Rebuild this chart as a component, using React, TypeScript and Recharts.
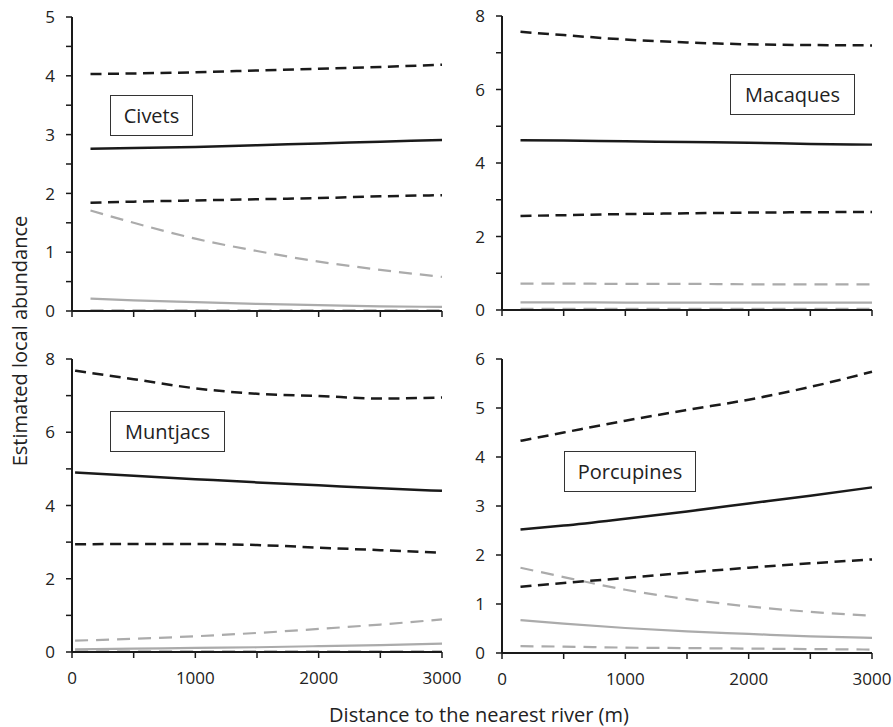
import { LineChart, Line, XAxis, YAxis } from "recharts"

// distances along the river gradient (m)
const distances = [150, 500, 1000, 1500, 2000, 2500, 3000]
const muntjacDistances = [25, 500, 1000, 1500, 2000, 2500, 3000]
const xTicks = [0, 500, 1000, 1500, 2000, 2500, 3000]

// Civets
const civetsHi = [4.03, 4.04, 4.06, 4.09, 4.12, 4.15, 4.19]
const civetsMean = [2.76, 2.77, 2.79, 2.82, 2.85, 2.88, 2.91]
const civetsLo = [1.84, 1.86, 1.88, 1.9, 1.92, 1.95, 1.97]
const civetsGreyHi = [1.71, 1.5, 1.23, 1.02, 0.84, 0.7, 0.58]
const civetsGreyMean = [0.21, 0.18, 0.15, 0.12, 0.1, 0.08, 0.07]
const civetsGreyLo = [0.01, 0.01, 0.01, 0.01, 0.01, 0.01, 0.01]

// Macaques
const macaquesHi = [7.57, 7.48, 7.36, 7.28, 7.23, 7.21, 7.2]
const macaquesMean = [4.62, 4.61, 4.59, 4.57, 4.55, 4.52, 4.5]
const macaquesLo = [2.56, 2.58, 2.61, 2.63, 2.65, 2.66, 2.67]
const macaquesGreyHi = [0.72, 0.72, 0.71, 0.71, 0.7, 0.7, 0.7]
const macaquesGreyMean = [0.21, 0.21, 0.2, 0.2, 0.2, 0.2, 0.2]
const macaquesGreyLo = [0.03, 0.03, 0.03, 0.03, 0.03, 0.03, 0.03]

// Muntjacs
const muntjacsHi = [7.68, 7.45, 7.2, 7.05, 6.99, 6.92, 6.95]
const muntjacsMean = [4.9, 4.81, 4.72, 4.63, 4.55, 4.47, 4.4]
const muntjacsLo = [2.94, 2.95, 2.95, 2.92, 2.85, 2.78, 2.71]
const muntjacsGreyHi = [0.31, 0.36, 0.43, 0.52, 0.63, 0.75, 0.89]
const muntjacsGreyMean = [0.07, 0.09, 0.11, 0.13, 0.16, 0.19, 0.23]
const muntjacsGreyLo = [0.02, 0.02, 0.02, 0.02, 0.02, 0.02, 0.02]

// Porcupines
const porcupinesHi = [4.33, 4.5, 4.74, 4.96, 5.17, 5.43, 5.74]
const porcupinesMean = [2.52, 2.6, 2.74, 2.89, 3.05, 3.21, 3.38]
const porcupinesLo = [1.35, 1.43, 1.53, 1.64, 1.74, 1.83, 1.91]
const porcupinesGreyHi = [1.74, 1.55, 1.29, 1.1, 0.95, 0.84, 0.76]
const porcupinesGreyMean = [0.67, 0.6, 0.51, 0.44, 0.39, 0.34, 0.31]
const porcupinesGreyLo = [0.14, 0.13, 0.11, 0.1, 0.09, 0.08, 0.07]

const FONT = "'Open Sans', sans-serif"
const INK = "#1a1a1a"
const GREY = "#ababab"

function buildRows(xs: number[], hi: number[], mean: number[], lo: number[], gHi: number[], gMean: number[], gLo: number[]) {
  return xs.map((x, i) => ({ x, hi: hi[i], mean: mean[i], lo: lo[i], gHi: gHi[i], gMean: gMean[i], gLo: gLo[i] }))
}

const civetsRows = buildRows(distances, civetsHi, civetsMean, civetsLo, civetsGreyHi, civetsGreyMean, civetsGreyLo)
const macaquesRows = buildRows(distances, macaquesHi, macaquesMean, macaquesLo, macaquesGreyHi, macaquesGreyMean, macaquesGreyLo)
const muntjacsRows = buildRows(muntjacDistances, muntjacsHi, muntjacsMean, muntjacsLo, muntjacsGreyHi, muntjacsGreyMean, muntjacsGreyLo)
const porcupinesRows = buildRows(distances, porcupinesHi, porcupinesMean, porcupinesLo, porcupinesGreyHi, porcupinesGreyMean, porcupinesGreyLo)

const range = (max: number, step: number) => {
  const out: number[] = []
  for (let v = 0; v <= max + 1e-9; v += step) out.push(Math.round(v * 10) / 10)
  return out
}

interface PanelProps {
  plotX: number
  plotY: number
  plotH: number
  rows: any[]
  yMax: number
  yStep: number
  yLabelStep: number
  showXLabels: boolean
}

function Panel({ plotX, plotY, plotH, rows, yMax, yStep, yLabelStep, showXLabels }: PanelProps) {
  const yTicks = range(yMax, yStep)

  const yTick = (props: any) => {
    const v = props.payload.value
    if (Math.abs(v / yLabelStep - Math.round(v / yLabelStep)) > 1e-6) return <g />
    return (
      <text x={props.x} y={props.y} dy="0.36em" textAnchor="end" fontSize={17} fontFamily={FONT} fill="#222">
        {v}
      </text>
    )
  }

  const xTick = (props: any) => {
    const v = props.payload.value
    if (!showXLabels || v % 1000 !== 0) return <g />
    return (
      <text x={props.x} y={props.y} dy="0.71em" textAnchor="middle" fontSize={17} fontFamily={FONT} fill="#222">
        {v}
      </text>
    )
  }

  return (
    <div style={{ position: "absolute", left: plotX - 50, top: plotY - 20 }}>
      <LineChart width={450} height={plotH + 60} data={rows} margin={{ top: 20, right: 30, left: 10, bottom: 10 }}>
        <XAxis
          type="number"
          dataKey="x"
          domain={[0, 3000]}
          ticks={xTicks}
          interval={0}
          height={30}
          tickSize={6}
          tickMargin={14}
          axisLine={{ stroke: INK, strokeWidth: 2 }}
          tickLine={{ stroke: INK, strokeWidth: 1.5 }}
          tick={xTick}
        />
        <YAxis
          type="number"
          domain={[0, yMax]}
          ticks={yTicks}
          interval={0}
          width={40}
          tickSize={6}
          tickMargin={11}
          axisLine={{ stroke: INK, strokeWidth: 2 }}
          tickLine={{ stroke: INK, strokeWidth: 1.5 }}
          tick={yTick}
        />
        <Line type="monotone" dataKey="gLo" stroke={GREY} strokeWidth={2.2} strokeDasharray="13 8" dot={false} isAnimationActive={false} />
        <Line type="monotone" dataKey="gMean" stroke={GREY} strokeWidth={2.2} dot={false} isAnimationActive={false} />
        <Line type="monotone" dataKey="gHi" stroke={GREY} strokeWidth={2.2} strokeDasharray="13 8" dot={false} isAnimationActive={false} />
        <Line type="monotone" dataKey="lo" stroke={INK} strokeWidth={2.5} strokeDasharray="11 6.5" dot={false} isAnimationActive={false} />
        <Line type="monotone" dataKey="mean" stroke={INK} strokeWidth={2.5} dot={false} isAnimationActive={false} />
        <Line type="monotone" dataKey="hi" stroke={INK} strokeWidth={2.5} strokeDasharray="11 6.5" dot={false} isAnimationActive={false} />
      </LineChart>
    </div>
  )
}

function LabelBox({ x, y, w, h, text }: { x: number; y: number; w: number; h: number; text: string }) {
  return (
    <div
      style={{
        position: "absolute",
        left: x,
        top: y,
        width: w,
        height: h,
        boxSizing: "border-box",
        border: "1px solid #333",
        background: "#fff",
        display: "flex",
        alignItems: "center",
        justifyContent: "center",
        fontFamily: FONT,
        fontSize: 20,
        color: "#222",
      }}
    >
      {text}
    </div>
  )
}

export default function App() {
  return (
    <div style={{ position: "absolute", left: 0, top: 0, width: 893, height: 727, background: "#fff", overflow: "hidden" }}>
      <Panel plotX={72} plotY={17} plotH={294} rows={civetsRows} yMax={5} yStep={0.5} yLabelStep={1} showXLabels={false} />
      <Panel plotX={502} plotY={16} plotH={294} rows={macaquesRows} yMax={8} yStep={1} yLabelStep={2} showXLabels={false} />
      <Panel plotX={72} plotY={359} plotH={293} rows={muntjacsRows} yMax={8} yStep={1} yLabelStep={2} showXLabels={true} />
      <Panel plotX={502} plotY={359} plotH={294} rows={porcupinesRows} yMax={6} yStep={1} yLabelStep={1} showXLabels={true} />

      <LabelBox x={110} y={95} w={83} h={41} text="Civets" />
      <LabelBox x={730} y={74} w={125} h={41} text="Macaques" />
      <LabelBox x={110} y={411} w={115} h={41} text="Muntjacs" />
      <LabelBox x={564} y={451} w={132} h={41} text="Porcupines" />

      <svg width={893} height={727} style={{ position: "absolute", left: 0, top: 0, pointerEvents: "none" }}>
        <text x={479} y={722} textAnchor="middle" fontSize={20} fontFamily={FONT} fill="#222">
          Distance to the nearest river (m)
        </text>
        <text transform="translate(27, 341) rotate(-90)" textAnchor="middle" fontSize={20} fontFamily={FONT} fill="#222">
          Estimated local abundance
        </text>
      </svg>
    </div>
  )
}
